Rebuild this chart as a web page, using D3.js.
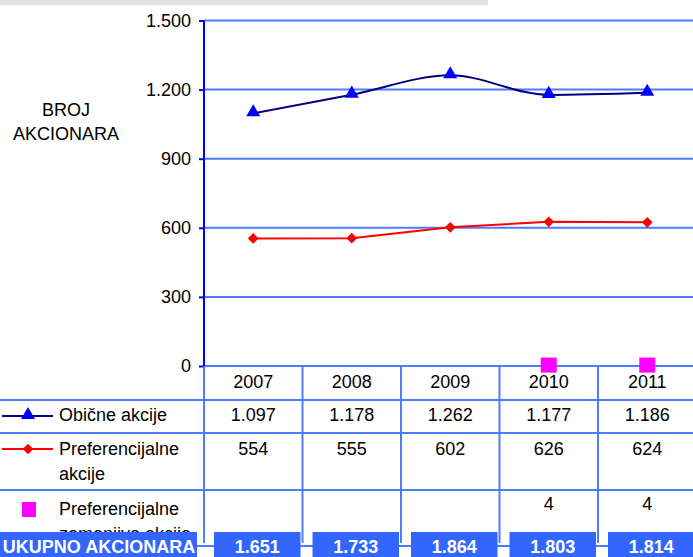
<!DOCTYPE html>
<html>
<head>
<meta charset="utf-8">
<script src="https://cdn.jsdelivr.net/npm/d3@7"></script>
<style>
	body { margin: 0; background: #fff; }
	svg { display: block; font-family: "Liberation Sans", Arial, sans-serif; }
</style>
</head>
<body>
<div id="chart"></div>
<script>

// data
var years = ["2007", "2008", "2009", "2010", "2011"];
var obicne = [1097, 1178, 1262, 1177, 1186];
var preferencijalne = [554, 555, 602, 626, 624];
var zamenjive = [null, null, null, 4, 4];
var ukupno = [1651, 1733, 1864, 1803, 1814];
var yTicks = [0, 300, 600, 900, 1200, 1500];
var seriesNames = [["Obične akcije"], ["Preferencijalne", "akcije"], ["Preferencijalne", "zamenjive akcije"]];

var width = 693, height = 557;
var gridColor = "#4d7cff", boxColor = "#3366ff";

var fmt = d3.formatLocale({decimal: ",", thousands: ".", grouping: [3], currency: ["", ""]}).format(",d");

var svg = d3.select("#chart").append("svg")
	.attr("width", width).attr("height", height);

// grey strip at the top
svg.append("rect").attr("x", 0).attr("y", 0).attr("width", 488).attr("height", 5).attr("fill", "#e0e0e0");

var x = d3.scaleBand().domain(years).range([204, 696.5]);
var y = d3.scaleLinear().domain([0, 1500]).range([366, 20.5]);

// gridlines
svg.append("g").selectAll("line")
	.data(yTicks).enter().append("line")
	.attr("x1", 204).attr("x2", width)
	.attr("y1", d => y(d)).attr("y2", d => y(d))
	.attr("stroke", gridColor).attr("stroke-width", 2);

// y axis
var yAxis = svg.append("g").attr("transform", "translate(204,0)")
	.call(d3.axisLeft(y).tickValues(yTicks).tickFormat(fmt).tickSize(5).tickPadding(8));
yAxis.select(".domain").attr("stroke", "#0000ff").attr("stroke-width", 2).attr("d", "M0," + y(1500) + "V" + y(0));
yAxis.selectAll(".tick line").attr("stroke", "#0000ff").attr("stroke-width", 2);
yAxis.selectAll(".tick text").attr("font-size", 18).attr("font-family", "Liberation Sans, Arial, sans-serif").attr("fill", "#000");

// axis title
svg.append("text").attr("x", 66).attr("text-anchor", "middle").attr("font-size", 18)
	.selectAll("tspan").data(["BROJ", "AKCIONARA"]).enter().append("tspan")
	.attr("x", 66).attr("y", (d, i) => 116 + i * 24).text(d => d);

// table lines
var rowLines = [400, 433, 490, 546];
svg.append("g").selectAll("line")
	.data(rowLines).enter().append("line")
	.attr("x1", 0).attr("x2", width)
	.attr("y1", d => d).attr("y2", d => d)
	.attr("stroke", gridColor).attr("stroke-width", 2);
svg.append("g").selectAll("line")
	.data(years).enter().append("line")
	.attr("x1", d => x(d)).attr("x2", d => x(d))
	.attr("y1", 366).attr("y2", 543)
	.attr("stroke", gridColor).attr("stroke-width", 2);
svg.append("line").attr("x1", x("2011") + x.bandwidth()).attr("x2", x("2011") + x.bandwidth())
	.attr("y1", 366).attr("y2", 543).attr("stroke", gridColor).attr("stroke-width", 2);

var cx = d => x(d) + x.bandwidth() / 2;

// table text
var table = svg.append("g").attr("font-size", 18).attr("text-anchor", "middle");
table.selectAll("text.year").data(years).enter().append("text").attr("class", "year")
	.attr("x", cx).attr("y", 388).text(d => d);
table.selectAll("text.ob").data(obicne).enter().append("text").attr("class", "ob")
	.attr("x", (d, i) => cx(years[i])).attr("y", 421).text(d => fmt(d));
table.selectAll("text.pr").data(preferencijalne).enter().append("text").attr("class", "pr")
	.attr("x", (d, i) => cx(years[i])).attr("y", 455).text(d => fmt(d));
table.selectAll("text.za").data(zamenjive).enter().append("text").attr("class", "za")
	.attr("x", (d, i) => cx(years[i])).attr("y", 510).text(d => d == null ? "" : fmt(d));

// legend labels (last one is partly hidden by the totals bar, as in the original)
var legendY = [421, 455, 515];
svg.append("g").attr("font-size", 18).selectAll("text")
	.data(seriesNames).enter().append("text")
	.each(function(lines, i) {
		d3.select(this).selectAll("tspan").data(lines).enter().append("tspan")
			.attr("x", 59).attr("y", (d, j) => legendY[i] + j * 25).text(d => d);
	});

// legend keys
var triangle = d3.symbol(d3.symbolTriangle).size(85);
svg.append("line").attr("x1", 2).attr("x2", 53).attr("y1", 416).attr("y2", 416).attr("stroke", "#000080").attr("stroke-width", 2);
svg.append("path").attr("d", triangle()).attr("transform", "translate(28,415)").attr("fill", "#0000ff");
svg.append("line").attr("x1", 2).attr("x2", 53).attr("y1", 449).attr("y2", 449).attr("stroke", "#ff0000").attr("stroke-width", 2);
svg.append("rect").attr("x", -3.8).attr("y", -3.8).attr("width", 7.6).attr("height", 7.6)
	.attr("transform", "translate(28,449)rotate(45)").attr("fill", "#ff0000");
svg.append("rect").attr("x", 22).attr("y", 502).attr("width", 14).attr("height", 15).attr("fill", "#ff00ff");

// lines
var lineOb = d3.line().x((d, i) => cx(years[i])).y(d => y(d)).curve(d3.curveMonotoneX);
var linePr = d3.line().x((d, i) => cx(years[i])).y(d => y(d));

svg.append("path").datum(obicne).attr("d", lineOb)
	.attr("fill", "none").attr("stroke", "#000080").attr("stroke-width", 2);
svg.append("path").datum(preferencijalne).attr("d", linePr)
	.attr("fill", "none").attr("stroke", "#ff0000").attr("stroke-width", 2);

svg.append("g").selectAll("path")
	.data(obicne).enter().append("path")
	.attr("d", triangle())
	.attr("transform", (d, i) => "translate(" + cx(years[i]) + "," + (y(d) - 1) + ")")
	.attr("fill", "#0000ff");

svg.append("g").selectAll("rect")
	.data(preferencijalne).enter().append("rect")
	.attr("x", -3.8).attr("y", -3.8).attr("width", 7.6).attr("height", 7.6)
	.attr("transform", (d, i) => "translate(" + cx(years[i]) + "," + y(d) + ")rotate(45)")
	.attr("fill", "#ff0000");

svg.append("g").selectAll("rect")
	.data(zamenjive.map((v, i) => ({year: years[i], v: v})).filter(d => d.v != null)).enter().append("rect")
	.attr("x", d => cx(d.year) - 8).attr("y", d => y(d.v) - 7.5)
	.attr("width", 16).attr("height", 15)
	.attr("fill", "#ff00ff");

// totals bar
var totals = svg.append("g").attr("font-size", 18).attr("font-weight", "bold").attr("fill", "#fff").attr("text-anchor", "middle");
totals.append("rect").attr("x", 0).attr("y", 532).attr("width", 197).attr("height", 25).attr("fill", boxColor);
totals.append("text").attr("x", 99).attr("y", 553).text("UKUPNO AKCIONARA");
totals.selectAll("rect.tot").data(ukupno).enter().append("rect").attr("class", "tot")
	.attr("x", (d, i) => x(years[i]) + 10).attr("y", 532)
	.attr("width", x.bandwidth() - 12).attr("height", 25)
	.attr("fill", boxColor);
totals.selectAll("text.tot").data(ukupno).enter().append("text").attr("class", "tot")
	.attr("x", (d, i) => x(years[i]) + 10 + (x.bandwidth() - 12) / 2).attr("y", 553)
	.text(d => fmt(d));

</script>
</body>
</html>
